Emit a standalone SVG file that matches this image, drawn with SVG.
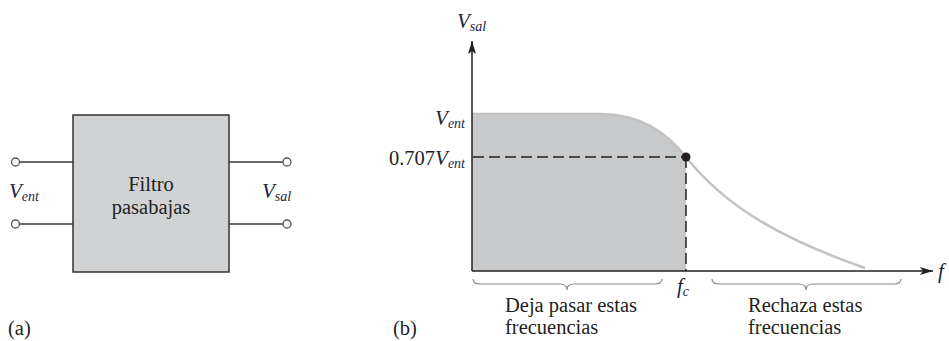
<svg xmlns="http://www.w3.org/2000/svg" width="949" height="341" viewBox="0 0 949 341">
<defs>
<style>
.t{font-family:"Liberation Serif","Times New Roman",serif;font-size:20.5px;fill:#231f20}
.v{font-family:"Liberation Serif","Times New Roman",serif;font-style:italic;fill:#1c2541}
.w{stroke:#3a3a3a;stroke-width:1.5;fill:none}
.term{fill:#fff;stroke:#555;stroke-width:1.3}
.ax{stroke:#231f20;stroke-width:1.5;fill:none}
.dash{stroke:#231f20;stroke-width:1.5;stroke-dasharray:11 5;fill:none}
.brace{stroke:#8a8a8a;stroke-width:1.2;fill:none}
</style>
<marker id="arr" markerWidth="14" markerHeight="10" refX="13" refY="5" orient="auto" markerUnits="userSpaceOnUse">
<path d="M0,1 L13,5 L0,9 L3,5 Z" fill="#231f20"/>
</marker>
</defs>

<g id="filtro">
<rect x="73" y="115" width="156" height="157" fill="#d1d2d4" stroke="#333" stroke-width="1.5"/>
<text class="t" x="151" y="191" text-anchor="middle">Filtro</text>
<text class="t" x="151" y="214" text-anchor="middle">pasabajas</text>
</g>

<g id="connectors">
<line class="w" x1="19.5" y1="162" x2="73" y2="162"/>
<line class="w" x1="19.5" y1="224" x2="73" y2="224"/>
<line class="w" x1="229" y1="162" x2="283" y2="162"/>
<line class="w" x1="229" y1="224" x2="283" y2="224"/>
</g>

<g id="terminales">
<circle class="term" cx="15.5" cy="162" r="4"/>
<circle class="term" cx="15.5" cy="224" r="4"/>
<circle class="term" cx="287" cy="162" r="4"/>
<circle class="term" cx="287" cy="224" r="4"/>
</g>

<g id="etiquetas-a">
<text class="v" x="9" y="198" font-size="21">V<tspan font-size="14" dy="3">ent</tspan></text>
<text class="v" x="262" y="198" font-size="21">V<tspan font-size="14" dy="3">sal</tspan></text>
<text class="t" x="8" y="335">(a)</text>
</g>

<g id="grafica">
<path d="M472,271 L472,114 L600,114 C640,114 666,132 686,157 L686,271 Z" fill="#c8c9cb"/>
<path d="M472,114 L600,114 C640,114 666,132 686,157 C720,200 770,235 865,268" fill="none" stroke="#c2c2c2" stroke-width="2.5"/>
<line class="ax" x1="472" y1="271" x2="472" y2="41" marker-end="url(#arr)"/>
<line class="ax" x1="472" y1="271" x2="933" y2="271" marker-end="url(#arr)"/>
<line class="dash" x1="473" y1="157" x2="686" y2="157"/>
<line class="dash" x1="686" y1="157" x2="686" y2="271"/>
<circle cx="686" cy="157" r="4.5" fill="#231f20"/>
</g>

<g id="llaves">
<path class="brace" d="M473,279 Q473,284 480,284 L560,284 Q567,284 567,290 Q567,284 574,284 L655,284 Q662,284 662,279"/>
<path class="brace" d="M712,279 Q712,284 719,284 L799,284 Q806,284 806,290 Q806,284 813,284 L894,284 Q901,284 901,279"/>
</g>

<g id="etiquetas-b">
<text class="v" x="457" y="28" font-size="21">V<tspan font-size="14" dy="3">sal</tspan></text>
<text class="v" x="465" y="125" font-size="21" text-anchor="end">V<tspan font-size="14" dy="3">ent</tspan></text>
<text x="465" y="165" text-anchor="end"><tspan class="t" font-size="20.5">0.707</tspan><tspan class="v" font-size="21">V</tspan><tspan class="v" font-size="14" dy="3">ent</tspan></text>
<text class="v" x="938" y="278" font-size="21">f</text>
<text class="v" x="677" y="293" font-size="21">f<tspan font-size="14" dy="3">c</tspan></text>
<text class="t" x="505" y="312">Deja pasar estas</text>
<text class="t" x="505" y="334">frecuencias</text>
<text class="t" x="748" y="312">Rechaza estas</text>
<text class="t" x="748" y="334">frecuencias</text>
<text class="t" x="393" y="335">(b)</text>
</g>
</svg>
